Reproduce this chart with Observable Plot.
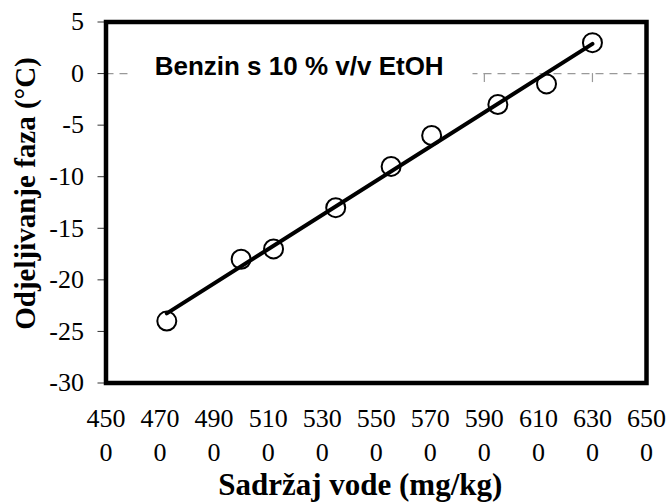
<!DOCTYPE html>
<html>
<head>
<meta charset="utf-8">
<script src="https://cdn.jsdelivr.net/npm/d3@7"></script>
<script src="https://cdn.jsdelivr.net/npm/@observablehq/plot@0.6"></script>
<style>
  html, body { margin: 0; padding: 0; background: white; }
</style>
</head>
<body>
<div id="chart"></div>
<script>
// Data
const waterContent = [4725, 5000, 5120, 5350, 5555, 5705, 5950, 6130, 6300]; // mg/kg
const phaseSep = [-24, -18, -17, -13, -9, -6, -3, -1, 3]; // °C

const xTicks = [4500, 4700, 4900, 5100, 5300, 5500, 5700, 5900, 6100, 6300, 6500];
const yTicks = [5, 0, -5, -10, -15, -20, -25, -30];
const zeroLineTicks = [4500, 4700, 5100, 5500, 5900, 6300, 6500];

const xTitle = "Sadržaj vode (mg/kg)";
const yTitle = "Odjeljivanje faza (°C)";
const annotationText = ["Benzin s 10 % v/v EtOH"];
const annotationX = [4680];
const annotationY = [0.65];
const labelBoxX = [4583, 5858];
const labelBoxY = [-1.2, 2.4];

const data = waterContent.map((x, i) => ({x, y: phaseSep[i]}));
const annotation = annotationText.map((t, i) => ({text: t, x: annotationX[i], y: annotationY[i]}));
const box = [{x1: labelBoxX[0], x2: labelBoxX[1], y1: labelBoxY[0], y2: labelBoxY[1]}];

const serif = "Liberation Serif";
const xFmt = d => { const s = String(d); return s.slice(0, 3) + "\n" + s.slice(3); };

const chart = Plot.plot({
  width: 667,
  height: 502,
  marginLeft: 105.5,
  marginRight: 21,
  marginTop: 21.5,
  marginBottom: 119.5,
  style: {fontFamily: serif, background: "white", color: "black"},
  x: {domain: [4500, 6500], axis: null},
  y: {domain: [-30, 5], axis: null},
  marks: [
    Plot.ruleY([0], {stroke: "#999", strokeWidth: 1.2, strokeDasharray: "8,6"}),
    Plot.ruleX(zeroLineTicks, {x: d => d, y1: 0, y2: 0, insetBottom: -9, stroke: "#999", strokeWidth: 1.2}),
    Plot.rect(box, {x1: "x1", x2: "x2", y1: "y1", y2: "y2", fill: "white"}),
    Plot.text(annotation, {x: "x", y: "y", text: "text", textAnchor: "start", fontFamily: "Liberation Sans", fontWeight: "bold", fontSize: 26, fill: "black"}),
    Plot.linearRegressionY(data, {x: "x", y: "y", stroke: "black", strokeWidth: 4, ci: 0}),
    Plot.dot(data, {x: "x", y: "y", r: 9.5, stroke: "black", strokeWidth: 2, fill: "none"}),
    Plot.axisY({ticks: yTicks, tickFormat: () => "", tickSize: 8, label: null, stroke: "#333"}),
    Plot.text(yTicks, {y: d => d, text: d => String(d), frameAnchor: "left", textAnchor: "end", dx: -22, fontSize: 26, fontFamily: serif, fill: "black"}),
    Plot.text(xTicks, {x: d => d, text: xFmt, frameAnchor: "bottom", textAnchor: "middle", lineAnchor: "top", dy: 20, lineHeight: 1.31, fontSize: 26, fontFamily: serif, fill: "black"}),
    Plot.text([yTitle], {text: d => d, frameAnchor: "left", textAnchor: "middle", lineAnchor: "middle", rotate: -90, dx: -80.5, dy: -9, fontSize: 29, fontFamily: serif, fontWeight: "bold", fill: "black"}),
    Plot.text([xTitle], {text: d => d, frameAnchor: "bottom", textAnchor: "middle", lineAnchor: "middle", dx: -16, dy: 102.5, fontSize: 31, fontFamily: serif, fontWeight: "bold", fill: "black"}),
    Plot.frame({stroke: "black", strokeWidth: 4.5})
  ]
});
document.getElementById("chart").appendChild(chart);
</script>
</body>
</html>
